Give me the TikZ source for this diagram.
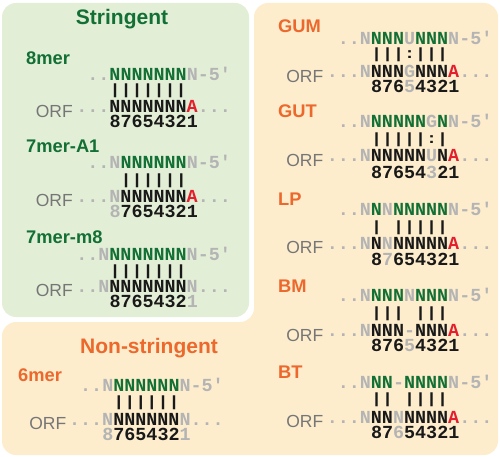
\documentclass[tikz,border=0pt]{standalone}
\usepackage{fontspec}
\setmainfont{Liberation Sans}
\newfontfamily\seqfont[Ligatures=TeXOff]{Liberation Mono}
\definecolor{sgreen}{RGB}{18,112,52}
\definecolor{sorange}{RGB}{236,104,44}
\definecolor{sred}{RGB}{228,30,45}
\definecolor{slight}{RGB}{180,180,180}
\definecolor{sblack}{RGB}{25,25,25}
\definecolor{orfgray}{RGB}{118,118,118}
\definecolor{panelgreen}{RGB}{227,238,214}
\definecolor{panelorange}{RGB}{253,237,205}
\newcommand{\sqG}[1]{\textcolor{sgreen}{#1}}
\newcommand{\sqL}[1]{\textcolor{slight}{#1}}
\newcommand{\sqR}[1]{\textcolor{sred}{#1}}
\newcommand{\sqK}[1]{\textcolor{sblack}{#1}}
\newcommand{\sqgap}{\hphantom{|}}
\newcommand{\seqtxt}[1]{{\seqfont\bfseries\fontsize{18.4}{18.4}\selectfont #1}}
\newcommand{\bartxt}[1]{\resizebox*{\width}{14pt}{\seqfont\bfseries\fontsize{18.4}{18.4}\selectfont #1}}
\tikzset{
  seq/.style={anchor=base west, inner sep=0pt, outer sep=0pt, text=sblack},
  barrow/.style={anchor=west, inner sep=0pt, outer sep=0pt, text=sblack},
  lbl/.style={anchor=base west, inner sep=0pt, font=\fontsize{18.3}{18.3}\selectfont\bfseries},
  orf/.style={anchor=base east, inner sep=0pt, text=orfgray, font=\fontsize{17.5}{17.5}\selectfont},
  ttl/.style={anchor=base, inner sep=0pt, font=\fontsize{21}{21}\selectfont\bfseries},
}
\begin{document}
\begin{tikzpicture}[x=1pt,y=-1pt]
\useasboundingbox (0,0) rectangle (500,457);
% panels
\fill[panelorange, rounded corners=14] (254,3) -- (498,3) -- (498,455) -- (2,455) -- (2,322) -- (254,322) -- cycle;
\fill[panelgreen, rounded corners=14] (2,3) rectangle (249,317);
% titles
\node[ttl, text=sgreen] (tS) at (122,25) {Stringent};
\node[ttl, text=sorange] (tN) at (149,353) {Non-stringent};
% ---------- 8mer
\node[lbl, text=sgreen] (l8) at (26,65) {8mer};
\node[seq] (a1) at (87.38,80.5) {\seqtxt{\sqL{..}\sqG{NNNNNNN}\sqL{N-5'}}};
\node[barrow] (a2) at (109.5,91) {\bartxt{|||||||}};
\node[seq] (a3) at (76.32,113) {\seqtxt{\sqL{...}\sqK{NNNNNNN}\sqR{A}\sqL{...}}};
\node[seq] (a4) at (109.5,128) {\seqtxt{\sqK{87654321}}};
\node[orf] (a5) at (73,117.5) {ORF};
% ---------- 7mer-A1
\node[lbl, text=sgreen] (l7a) at (26,153) {7mer-A1};
\node[seq] (b1) at (87.38,168.5) {\seqtxt{\sqL{..N}\sqG{NNNNNN}\sqL{N-5'}}};
\node[barrow] (b2) at (120.56,180.5) {\bartxt{||||||}};
\node[seq] (b3) at (76.32,202) {\seqtxt{\sqL{...N}\sqK{NNNNNN}\sqR{A}\sqL{...}}};
\node[seq] (b4) at (109.5,217) {\seqtxt{\sqL{8}\sqK{7654321}}};
\node[orf] (b5) at (73,206.5) {ORF};
% ---------- 7mer-m8
\node[lbl, text=sgreen] (l7m) at (26,243) {7mer-m8};
\node[seq] (c1) at (76.32,260) {\seqtxt{\sqL{..N}\sqG{NNNNNNN}\sqL{N-5'}}};
\node[barrow] (c2) at (109.5,271.5) {\bartxt{|||||||}};
\node[seq] (c3) at (76.32,292) {\seqtxt{\sqL{..N}\sqK{NNNNNNN}\sqL{N...}}};
\node[seq] (c4) at (109.5,307) {\seqtxt{\sqK{8765432}\sqL{1}}};
\node[orf] (c5) at (73,296.5) {ORF};
% ---------- 6mer
\node[lbl, text=sorange] (l6) at (18,381) {6mer};
\node[seq] (d1) at (80.18,391.7) {\seqtxt{\sqL{..N}\sqG{NNNNNN}\sqL{N-5'}}};
\node[barrow] (d2) at (113.36,403) {\bartxt{||||||}};
\node[seq] (d3) at (69.12,425) {\seqtxt{\sqL{...N}\sqK{NNNNNN}\sqL{N...}}};
\node[seq] (d4) at (102.3,440.5) {\seqtxt{\sqL{8}\sqK{765432}\sqL{1}}};
\node[orf] (d5) at (66.5,429.5) {ORF};
% ---------- GUM
\node[lbl, text=sorange] (lgum) at (278,33) {GUM};
\node[seq] (e1) at (337.82,45) {\seqtxt{\sqL{..N}\sqG{NNN}\sqL{U}\sqG{NNN}\sqL{N-5'}}};
\node[barrow] (e2) at (371,55) {\bartxt{|||:|||}};
\node[seq] (e3) at (326.76,78) {\seqtxt{\sqL{...N}\sqK{NNN}\sqL{G}\sqK{NNN}\sqR{A}\sqL{...}}};
\node[seq] (e4) at (371,93) {\seqtxt{\sqK{876}\sqL{5}\sqK{4321}}};
\node[orf] (e5) at (323.5,82.5) {ORF};
% ---------- GUT
\node[lbl, text=sorange] (lgut) at (278,118) {GUT};
\node[seq] (f1) at (337.82,128) {\seqtxt{\sqL{..N}\sqG{NNNNN}\sqL{G}\sqG{N}\sqL{N-5'}}};
\node[barrow] (f2) at (371,140) {\bartxt{|||||:|}};
\node[seq] (f3) at (326.76,162) {\seqtxt{\sqL{...N}\sqK{NNNNN}\sqL{U}\sqK{N}\sqR{A}\sqL{...}}};
\node[seq] (f4) at (371,178.5) {\seqtxt{\sqK{87654}\sqL{3}\sqK{21}}};
\node[orf] (f5) at (323.5,166.5) {ORF};
% ---------- LP
\node[lbl, text=sorange] (llp) at (278,205) {LP};
\node[seq] (g1) at (337.82,215.5) {\seqtxt{\sqL{..N}\sqG{N}\sqL{N}\sqG{NNNNN}\sqL{N-5'}}};
\node[barrow] (g2) at (371,227.5) {\bartxt{|\sqgap|||||}};
\node[seq] (g3) at (326.76,249) {\seqtxt{\sqL{...N}\sqK{N}\sqL{N}\sqK{NNNNN}\sqR{A}\sqL{...}}};
\node[seq] (g4) at (371,265) {\seqtxt{\sqK{8}\sqL{7}\sqK{654321}}};
\node[orf] (g5) at (323.5,253.5) {ORF};
% ---------- BM
\node[lbl, text=sorange] (lbm) at (278,292) {BM};
\node[seq] (h1) at (337.82,301.7) {\seqtxt{\sqL{..N}\sqG{NNN}\sqL{N}\sqG{NNN}\sqL{N-5'}}};
\node[barrow] (h2) at (371,313.5) {\bartxt{|||\sqgap|||}};
\node[seq] (h3) at (326.76,336.7) {\seqtxt{\sqL{...N}\sqK{NNN}\sqL{-}\sqK{NNN}\sqR{A}\sqL{...}}};
\node[seq] (h4) at (371,351.5) {\seqtxt{\sqK{876}\sqL{5}\sqK{4321}}};
\node[orf] (h5) at (323.5,341) {ORF};
% ---------- BT
\node[lbl, text=sorange] (lbt) at (278,378) {BT};
\node[seq] (i1) at (337.82,388) {\seqtxt{\sqL{..N}\sqG{NN}\sqL{-}\sqG{NNNN}\sqL{N-5'}}};
\node[barrow] (i2) at (371,400) {\bartxt{||\sqgap||||}};
\node[seq] (i3) at (326.76,423) {\seqtxt{\sqL{...N}\sqK{NN}\sqL{N}\sqK{NNNN}\sqR{A}\sqL{...}}};
\node[seq] (i4) at (371,438.7) {\seqtxt{\sqK{87}\sqL{6}\sqK{54321}}};
\node[orf] (i5) at (323.5,427.5) {ORF};
\end{tikzpicture}
\end{document}
